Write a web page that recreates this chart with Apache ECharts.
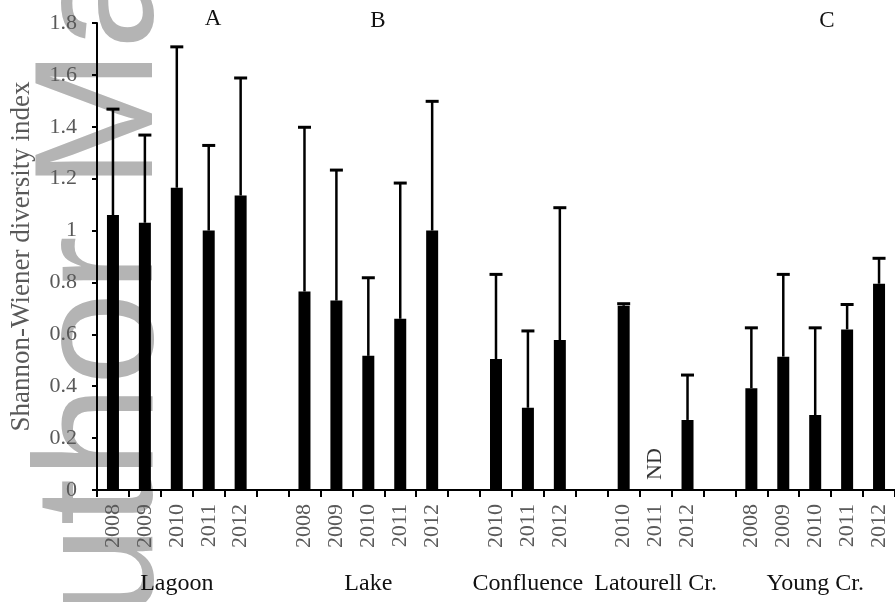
<!DOCTYPE html>
<html>
<head>
<meta charset="utf-8">
<script src="https://cdn.jsdelivr.net/npm/echarts@6/dist/echarts.min.js"></script>
<style>
  html, body { margin: 0; padding: 0; background: #fff; }
  #chart { width: 895px; height: 602px; }
</style>
</head>
<body>
<div id="chart"></div>
<script>
// Shannon-Wiener diversity by site and sampling year (mean with upper error bar)
const siteNames = ['Lagoon', 'Lake', 'Confluence', 'Latourell Cr.', 'Young Cr.'];

const lagoonYears = ['2008', '2009', '2010', '2011', '2012'];
const lagoonMean  = [1.06, 1.03, 1.165, 1.0, 1.135];
const lagoonUpper = [1.47, 1.37, 1.71, 1.33, 1.59];

const lakeYears = ['2008', '2009', '2010', '2011', '2012'];
const lakeMean  = [0.765, 0.73, 0.517, 0.66, 1.0];
const lakeUpper = [1.40, 1.235, 0.82, 1.185, 1.50];

const confluenceYears = ['2010', '2011', '2012'];
const confluenceMean  = [0.505, 0.317, 0.578];
const confluenceUpper = [0.833, 0.615, 1.09];

const latourellYears = ['2010', '2011', '2012'];
const latourellMean  = [0.71, null, 0.27];   // 2011: no data (ND)
const latourellUpper = [0.72, null, 0.445];

const youngYears = ['2008', '2009', '2010', '2011', '2012'];
const youngMean  = [0.392, 0.514, 0.289, 0.619, 0.795];
const youngUpper = [0.627, 0.833, 0.627, 0.717, 0.895];

const groupLetters = ['A', 'B', 'C'];
const yTicks = { min: 0, max: 1.8, step: 0.2 };
const noDataText = 'ND';
const noDataLevel = 0.1;

// Build one category slot per year, with an empty slot between sites
const siteYears = [lagoonYears, lakeYears, confluenceYears, latourellYears, youngYears];
const siteMeans = [lagoonMean, lakeMean, confluenceMean, latourellMean, youngMean];
const siteUppers = [lagoonUpper, lakeUpper, confluenceUpper, latourellUpper, youngUpper];

const slotKeys = [];
const slotYearLabel = [];
const slotSiteLabel = [];
const barValues = [];
const errorData = [];
const noDataPoints = [];

siteNames.forEach((site, s) => {
  if (s > 0) {
    slotKeys.push('gap' + s);
    slotYearLabel.push('');
    slotSiteLabel.push('');
    barValues.push('-');
  }
  const start = slotKeys.length;
  const mid = start + Math.floor(siteYears[s].length / 2);
  siteYears[s].forEach((yr, i) => {
    const idx = slotKeys.length;
    slotKeys.push(site + '|' + yr);
    slotYearLabel.push(yr);
    slotSiteLabel.push(idx === mid ? site : '');
    const m = siteMeans[s][i];
    if (m === null) {
      barValues.push('-');
      noDataPoints.push([idx, noDataLevel]);
    } else {
      barValues.push(m);
      errorData.push([idx, m, siteUppers[s][i]]);
    }
  });
});

const serif = '"Liberation Serif", "Times New Roman", serif';
const tickGrey = '#595959';

const chart = echarts.init(document.getElementById('chart'), null, { renderer: 'canvas' });

chart.setOption({
  animation: false,
  backgroundColor: '#ffffff',
  grid: { left: 94, right: -3, top: 23, bottom: 112, containLabel: false },
  xAxis: [
    {
      type: 'category',
      data: slotKeys,
      boundaryGap: true,
      axisLine: { show: true, lineStyle: { color: '#000', width: 2 } },
      axisTick: { show: true, interval: 0, length: 7, lineStyle: { color: '#000', width: 2 } },
      axisLabel: {
        interval: 0,
        rotate: 90,
        margin: 14,
        fontFamily: serif,
        fontSize: 22,
        color: tickGrey,
        formatter: (v, i) => slotYearLabel[i]
      },
      splitLine: { show: false }
    },
    {
      type: 'category',
      data: slotKeys,
      position: 'bottom',
      boundaryGap: true,
      axisLine: { show: false },
      axisTick: { show: false },
      axisLabel: {
        interval: 0,
        margin: 82,
        fontFamily: serif,
        fontSize: 24,
        color: '#111',
        formatter: (v, i) => slotSiteLabel[i]
      },
      splitLine: { show: false }
    }
  ],
  yAxis: {
    type: 'value',
    min: yTicks.min,
    max: yTicks.max,
    interval: yTicks.step,
    name: 'Shannon-Wiener diversity index',
    nameLocation: 'middle',
    nameRotate: 90,
    nameGap: 62,
    nameTextStyle: { fontFamily: serif, fontSize: 27, color: tickGrey },
    axisLine: { show: true, lineStyle: { color: '#000', width: 2 } },
    axisTick: { show: true, length: 5, lineStyle: { color: '#000', width: 2 } },
    axisLabel: { margin: 20, fontFamily: serif, fontSize: 22, color: tickGrey },
    splitLine: { show: false }
  },
  graphic: [
    {
      type: 'text',
      z: -10,
      silent: true,
      x: 106,
      y: 731,
      rotation: Math.PI / 2,
      style: {
        text: 'Author Manuscript',
        fontFamily: '"Liberation Sans", Arial, sans-serif',
        fontSize: 168,
        fill: '#b4b4b4',
        align: 'left',
        verticalAlign: 'middle'
      }
    },
    { type: 'text', x: 213, y: 19, style: { text: groupLetters[0], fontFamily: serif, fontSize: 23, fill: '#111', align: 'center', verticalAlign: 'middle' } },
    { type: 'text', x: 378, y: 21, style: { text: groupLetters[1], fontFamily: serif, fontSize: 23, fill: '#111', align: 'center', verticalAlign: 'middle' } },
    { type: 'text', x: 827, y: 21, style: { text: groupLetters[2], fontFamily: serif, fontSize: 23, fill: '#111', align: 'center', verticalAlign: 'middle' } }
  ],
  series: [
    {
      type: 'bar',
      data: barValues,
      barWidth: 12,
      itemStyle: { color: '#000' },
      z: 2
    },
    {
      type: 'custom',
      data: errorData,
      z: 3,
      renderItem: (params, api) => {
        const idx = api.value(0);
        const base = api.coord([idx, api.value(1)]);
        const top = api.coord([idx, api.value(2)]);
        return {
          type: 'group',
          children: [
            { type: 'line', shape: { x1: base[0], y1: base[1], x2: top[0], y2: top[1] }, style: { stroke: '#000', lineWidth: 2.5 } },
            { type: 'line', shape: { x1: top[0] - 6.5, y1: top[1] + 0.5, x2: top[0] + 6.5, y2: top[1] + 0.5 }, style: { stroke: '#000', lineWidth: 3 } }
          ]
        };
      }
    },
    {
      type: 'scatter',
      data: noDataPoints,
      symbolSize: 0,
      label: {
        show: true,
        position: 'inside',
        rotate: 90,
        formatter: noDataText,
        fontFamily: serif,
        fontSize: 22,
        color: '#000',
        textBorderWidth: 0
      },
      z: 4
    }
  ]
});
</script>
</body>
</html>
